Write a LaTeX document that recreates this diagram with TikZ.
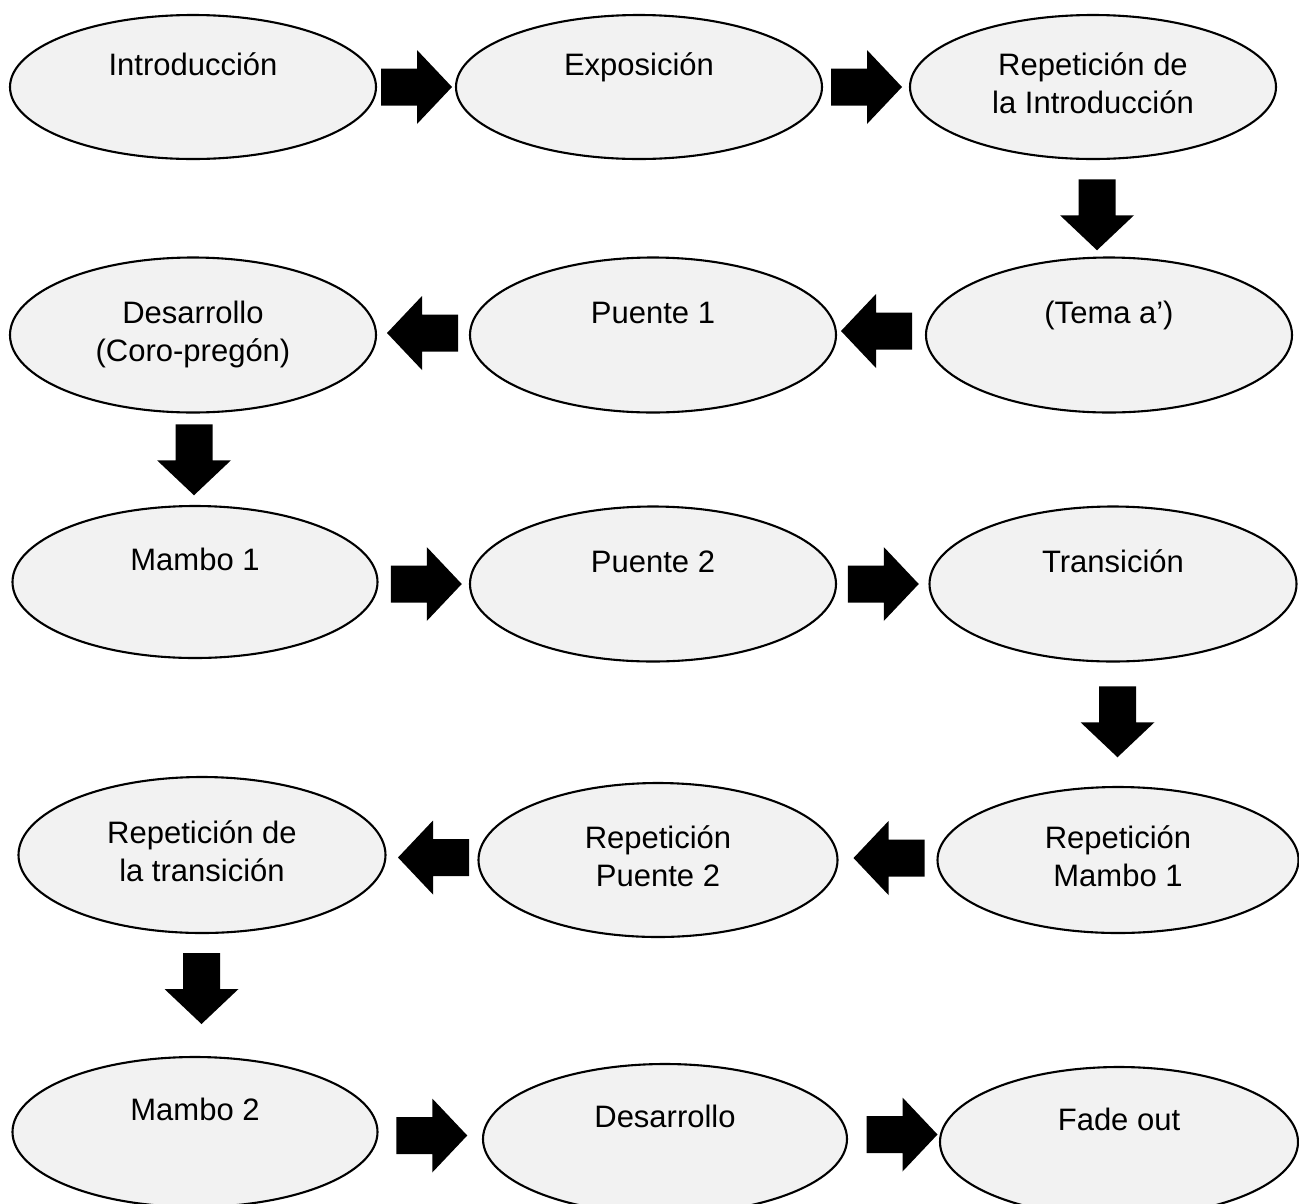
\documentclass[tikz,border=0pt]{standalone}
\usepackage{fontspec}
\setmainfont{Liberation Sans}
\usetikzlibrary{shapes.geometric,calc}
\definecolor{ellfill}{HTML}{F2F2F2}
\tikzset{
  ell/.style={ellipse, draw=black, line width=2.1pt, fill=ellfill, inner sep=0pt},
  lbl/.style={anchor=base, inner sep=0pt, font=\fontsize{31}{38}\selectfont},
  barrow/.pic={\fill[black] (-35,-18.5) -- (1,-18.5) -- (1,-37) -- (36,0) -- (1,37) -- (1,18.5) -- (-35,18.5) -- cycle;}
}
\newcommand{\twolines}[2]{\begin{tabular}[t]{@{}c@{}}#1\\#2\end{tabular}}
\begin{document}
\begin{tikzpicture}[x=1pt,y=-1pt]
\useasboundingbox (0,0) rectangle (1299,1203);
\clip (0,0) rectangle (1299,1203);
% row 1
\node[ell, minimum width=366pt, minimum height=144pt] (intro) at (193,87) {};
\node[ell, minimum width=366pt, minimum height=144pt] (expo) at (639,87) {};
\node[ell, minimum width=366pt, minimum height=144pt] (repintro) at (1093,87) {};
% row 2
\node[ell, minimum width=366pt, minimum height=155pt] (desa) at (193,335) {};
\node[ell, minimum width=366pt, minimum height=155pt] (puente1) at (653,335) {};
\node[ell, minimum width=366pt, minimum height=155pt] (tema) at (1109,335) {};
% row 3
\node[ell, minimum width=365pt, minimum height=152pt] (mambo1) at (195,582) {};
\node[ell, minimum width=366pt, minimum height=155pt] (puente2) at (653,584) {};
\node[ell, minimum width=367pt, minimum height=155pt] (trans) at (1113,584) {};
% row 4
\node[ell, minimum width=367pt, minimum height=156pt] (reptrans) at (202,855) {};
\node[ell, minimum width=359pt, minimum height=154pt] (reppuente) at (658,860) {};
\node[ell, minimum width=361pt, minimum height=146pt] (repmambo) at (1118,860) {};
% row 5
\node[ell, minimum width=365pt, minimum height=150pt] (mambo2) at (195,1132) {};
\node[ell, minimum width=364pt, minimum height=150pt] (desa2) at (665,1139) {};
\node[ell, minimum width=358pt, minimum height=150pt] (fade) at (1119,1142) {};

% labels
\node[lbl] (tintro) at ([yshift=12pt]intro.center) {Introducción};
\node[lbl] (texpo) at ([yshift=12pt]expo.center) {Exposición};
\node[lbl] (trepintro) at ([yshift=12pt]repintro.center) {\twolines{Repetición de}{la Introducción}};
\node[lbl] (tdesa) at ([yshift=12pt]desa.center) {\twolines{Desarrollo}{(Coro-pregón)}};
\node[lbl] (tpuente1) at ([yshift=12pt]puente1.center) {Puente 1};
\node[lbl] (ttema) at ([yshift=12pt]tema.center) {(Tema a’)};
\node[lbl] (tmambo1) at ([yshift=12pt]mambo1.center) {Mambo 1};
\node[lbl] (tpuente2) at ([yshift=12pt]puente2.center) {Puente 2};
\node[lbl] (ttrans) at ([yshift=12pt]trans.center) {Transición};
\node[lbl] (treptrans) at ([yshift=12pt]reptrans.center) {\twolines{Repetición de}{la transición}};
\node[lbl] (treppuente) at ([yshift=12pt]reppuente.center) {\twolines{Repetición}{Puente 2}};
\node[lbl] (trepmambo) at ([yshift=12pt]repmambo.center) {\twolines{Repetición}{Mambo 1}};
\node[lbl] (tmambo2) at ([yshift=12pt]mambo2.center) {Mambo 2};
\node[lbl] (tdesa2) at ([yshift=12pt]desa2.center) {Desarrollo};
\node[lbl] (tfade) at ([yshift=12pt]fade.center) {Fade out};

% block arrows
\pic at ($(intro.east)!0.5!(expo.west)$) {barrow};
\pic at ($(expo.east)!0.5!(repintro.west)$) {barrow};
\pic[rotate=-90] at ($(repintro.south)!0.5!(tema.north)+(-4,6)$) {barrow};
\pic[rotate=180] at ($(tema.west)!0.5!(puente1.east)+(-4,-4)$) {barrow};
\pic[rotate=180] at ($(puente1.west)!0.5!(desa.east)+(0,-2)$) {barrow};
\pic[rotate=-90] at ($(desa.south)!0.5!(mambo1.north)$) {barrow};
\pic at ($(mambo1.east)!0.5!(puente2.west)+(2,1)$) {barrow};
\pic at ($(puente2.east)!0.5!(trans.west)$) {barrow};
\pic[rotate=-90] at ($(trans.south)!0.5!(repmambo.north)+(2,-3)$) {barrow};
\pic[rotate=180] at ($(repmambo.west)!0.5!(reppuente.east)+(2,-2)$) {barrow};
\pic[rotate=180] at ($(reppuente.west)!0.5!(reptrans.east)+(2,0)$) {barrow};
\pic[rotate=-90] at ($(reptrans.south)!0.5!(mambo2.north)+(3,-7)$) {barrow};
\pic at ($(mambo2.east)!0.5!(desa2.west)+(1,0)$) {barrow};
\pic at ($(desa2.east)!0.5!(fade.west)+(8,-6)$) {barrow};
\end{tikzpicture}
\end{document}
